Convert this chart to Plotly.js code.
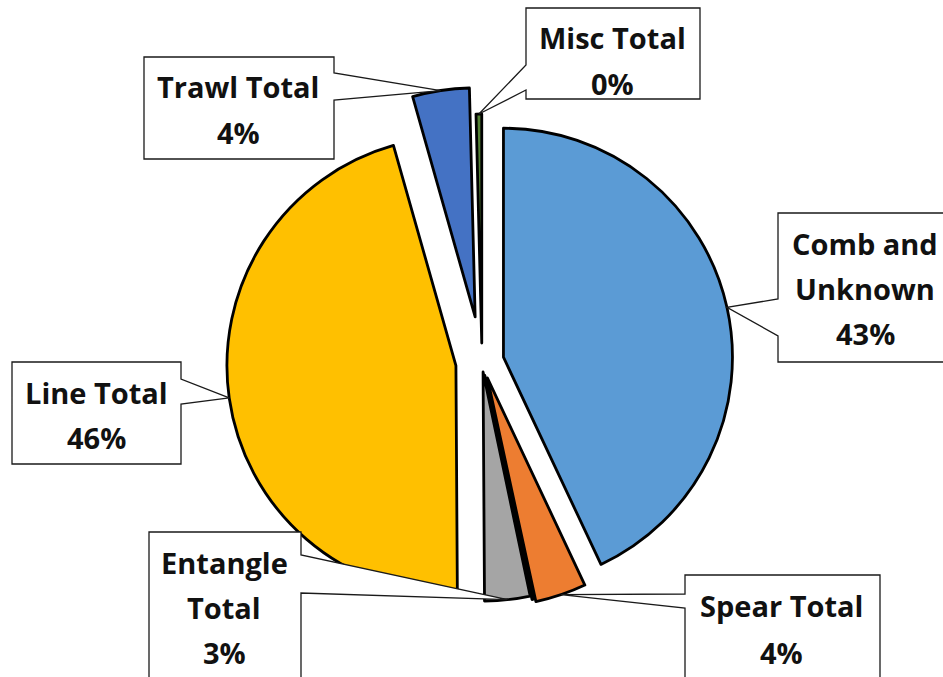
<!DOCTYPE html>
<html>
<head>
<meta charset="utf-8">
<script src="https://cdn.plot.ly/plotly-3.0.1.min.js"></script>
<style>
  html, body { margin: 0; padding: 0; background: #fff; }
  #chart { width: 943px; height: 677px; }
</style>
</head>
<body>
<div id="chart"></div>
<script>
// ---- data ----
const categories = ['Comb and Unknown', 'Spear Total', 'Other', 'Entangle Total', 'Line Total', 'Trawl Total', 'Misc Total'];
const values     = [43.0, 3.6, 0.1, 3.2, 45.7, 4.0, 0.4];
const colors     = ['#5B9BD5', '#ED7D31', '#3a3a3a', '#A5A5A5', '#FFC000', '#4472C4', '#548235'];
const pulls      = [0.096, 0.073, 0.06, 0.044, 0.115, 0.199, 0.083];
const labelWrap  = { 'Comb and Unknown': ['Comb and', 'Unknown'], 'Entangle Total': ['Entangle', 'Total'] };

// ---- layout of the callout boxes (pixels) ----
const W = 943, H = 677;
const R = 229, CX = 482, CY = 362;
const callouts = {
  'Comb and Unknown': { box: [778, 213, 980, 362], side: 'left',  attach: [299, 336], cx: 865, y0: 243, gap: 45 },
  'Spear Total':      { box: [685, 575, 880, 720], side: 'left',  attach: [594, 608], cx: 781, y0: 605, gap: 47 },
  'Entangle Total':   { box: [149, 532, 301, 720], side: 'right', attach: [555, 593], cx: 224, y0: 562, gap: 45 },
  'Line Total':       { box: [12, 362, 181, 464],  side: 'right', attach: [379, 404], cx: 96,  y0: 392, gap: 46 },
  'Trawl Total':      { box: [144, 57, 334, 159],  side: 'right', attach: [73, 100],  cx: 238, y0: 86,  gap: 47 },
  'Misc Total':       { box: [526, 8, 700, 99],    side: 'left',  attach: [65, 90],   cx: 612, y0: 37,  gap: 46 }
};

const px = x => x / W;
const py = y => 1 - y / H;

// pie domain so that radius = R and center = (CX, CY)
const maxPull = Math.max(...pulls);
const span = 2 * R * (1 + maxPull);
const domX = [(CX - span / 2) / W, (CX + span / 2) / W];
const y0d = 1 - (CY + span / 2) / H;
const domY = [y0d, y0d + span / H];

const total = values.reduce((a, b) => a + b, 0);
const shapes = [];
const annotations = [];
let cum = 0;
categories.forEach((cat, i) => {
  const start = cum / total * 360;
  cum += values[i];
  const end = cum / total * 360;
  const c = callouts[cat];
  if (!c) return;
  const mid = (start + end) / 2 * Math.PI / 180;
  const rr = R * (1 + pulls[i]);
  const tx = CX + rr * Math.sin(mid);
  const ty = CY - rr * Math.cos(mid);
  const [x0, y0, x1, y1] = c.box;
  let pts;
  if (c.side === 'left') {
    pts = [[x0, y0], [x1, y0], [x1, y1], [x0, y1], [x0, c.attach[1]], [tx, ty], [x0, c.attach[0]]];
  } else {
    pts = [[x0, y0], [x1, y0], [x1, c.attach[0]], [tx, ty], [x1, c.attach[1]], [x1, y1], [x0, y1]];
  }
  const path = 'M' + pts.map(p => px(p[0]).toFixed(5) + ',' + py(p[1]).toFixed(5)).join(' L') + ' Z';
  shapes.push({ type: 'path', xref: 'paper', yref: 'paper', path: path,
                fillcolor: '#ffffff', line: { color: '#1a1a1a', width: 1.3 }, layer: 'above' });
  const pct = Math.round(values[i] / total * 100) + '%';
  const lines = (labelWrap[cat] || [cat]).concat([pct]);
  lines.forEach((t, k) => {
    annotations.push({ xref: 'paper', yref: 'paper', x: px(c.cx), y: py(c.y0 + k * c.gap),
      xanchor: 'center', yanchor: 'middle', showarrow: false, text: t,
      font: { family: 'Open Sans, Lato, sans-serif', size: 29, weight: 700, color: '#111' } });
  });
});

const trace = {
  type: 'pie',
  labels: categories,
  values: values,
  sort: false,
  direction: 'clockwise',
  rotation: 0,
  pull: pulls,
  textinfo: 'none',
  hoverinfo: 'skip',
  marker: { colors: colors, line: { color: '#000', width: 2.8 } },
  domain: { x: domX, y: domY },
  showlegend: false
};

Plotly.newPlot('chart', [trace], {
  width: W, height: H,
  margin: { l: 0, r: 0, t: 0, b: 0 },
  paper_bgcolor: '#ffffff',
  showlegend: false,
  shapes: shapes,
  annotations: annotations
}, { displayModeBar: false, staticPlot: true });
</script>
</body>
</html>
